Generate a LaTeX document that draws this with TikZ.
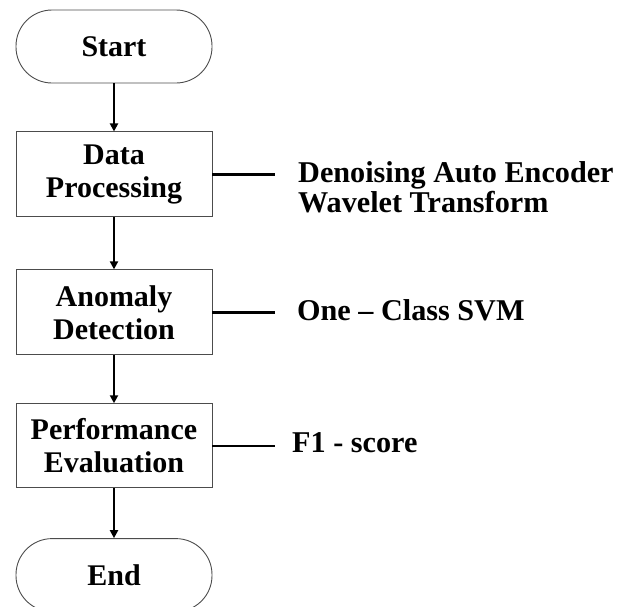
\documentclass[tikz,border=0pt]{standalone}
\usepackage{fontspec}
\setmainfont{Liberation Serif}
\usetikzlibrary{positioning,arrows.meta}

\begin{document}
\begin{tikzpicture}[x=1pt,y=1pt,
    font=\fontsize{30}{33}\selectfont\bfseries,
    stage/.style={draw=black!70, line width=0.9pt, minimum width=196pt,
                  minimum height=85pt, align=center, inner sep=0pt},
    terminal/.style={stage, minimum height=73pt, rounded corners=36pt},
    flow/.style={-{Triangle[length=8pt,width=8pt]}, line width=2.4pt},
    link/.style={line width=2.4pt},
    method/.style={anchor=base west, align=left, inner sep=0pt,
                   font=\fontsize{30.2}{30}\selectfont\bfseries}]
  \useasboundingbox (0,0) rectangle (627,-606);
  % -------------------
  % the main flow chart
  % -------------------
  \node[terminal] (start) at (114,-46.5) {Start};
  \node[stage, below=48pt of start] (proc) {Data\\Processing};
  \node[stage, below=52pt of proc] (detect) {Anomaly\\Detection};
  \node[stage, below=48pt of detect, minimum height=84pt] (eval) {Performance\\Evaluation};
  \node[terminal, below=50pt of eval] (stop) {End};
  \draw[flow] (start) -- (proc);
  \draw[flow] (proc) -- (detect);
  \draw[flow] (detect) -- (eval);
  \draw[flow] (eval) -- (stop);
  % -------------------------------
  % the methods used in each stage
  % -------------------------------
  \coordinate (procend) at ([xshift=63pt]proc.east);
  \coordinate (detectend) at ([xshift=63pt]detect.east);
  \coordinate (evalend) at ([xshift=63pt]eval.east);
  \node[method, anchor=west] (dae) at (298,-187) {Denoising Auto Encoder\\Wavelet Transform};
  \node[method] (svm) at (297,-320) {One -- Class SVM};
  \node[method] (f1) at (292,-452) {F1 - score};
  \draw[link] (proc) -- (procend);
  \draw[link] (detect) -- (detectend);
  \draw[link] (eval) -- (evalend);
\end{tikzpicture}
\end{document}
